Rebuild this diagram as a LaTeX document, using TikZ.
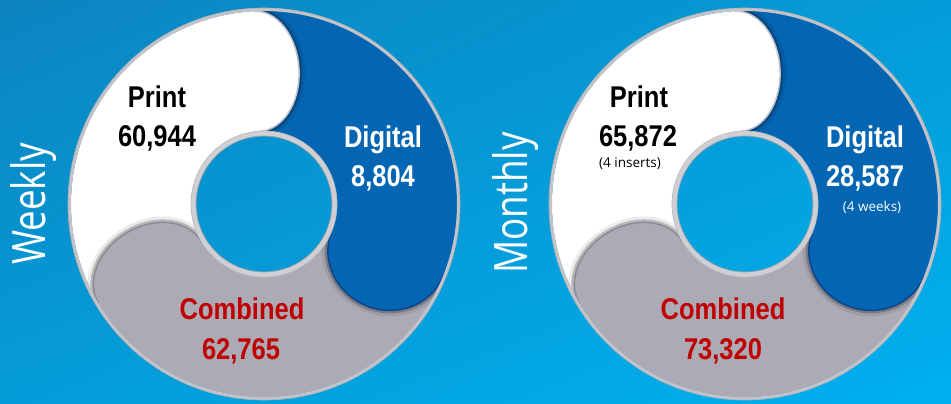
\documentclass[tikz,border=0pt]{standalone}
\usepackage{fontspec}
\usetikzlibrary{shadings}
\newfontfamily\labelfont{Liberation Sans}[FakeStretch=0.85]
\newfontfamily\notefont{Open Sans}
\newfontfamily\sidefont{Open Sans}[FakeStretch=0.8]
\definecolor{bgdark}{RGB}{12,132,192}
\definecolor{bgmid}{RGB}{4,156,216}
\definecolor{bglight}{RGB}{0,176,240}
\definecolor{digitalblue}{RGB}{4,101,178}
\definecolor{blueedge}{RGB}{10,70,140}
\definecolor{combgrey}{RGB}{172,170,181}
\definecolor{greyedge}{RGB}{140,138,150}
\definecolor{rimgrey}{RGB}{196,195,201}
\definecolor{ringgrey}{RGB}{208,207,213}
\definecolor{combred}{RGB}{192,0,0}
\begin{document}
\begin{tikzpicture}[x=1pt,y=1pt,
    bignum/.style={font=\labelfont\bfseries\fontsize{30}{30}\selectfont,anchor=base,inner sep=0pt},
    note/.style={font=\notefont\fontsize{13.5}{14}\selectfont,anchor=base,inner sep=0pt},
    sidelabel/.style={font=\sidefont\fontsize{46}{46}\selectfont,text=white,rotate=90,anchor=base,inner sep=0pt},
    donut/.pic={
        \fill[white] (211:193pt) arc[start angle=211,end angle=93,radius=193pt] -- (93:73pt) arc[start angle=93,end angle=211,radius=73pt] -- cycle;
        \fill[digitalblue] (93:193pt) arc[start angle=93,end angle=-22,radius=193pt] -- (-22:73pt) arc[start angle=-22,end angle=93,radius=73pt] -- cycle;
        \fill[combgrey] (-22:193pt) arc[start angle=-22,end angle=-149,radius=193pt] -- (-149:73pt) arc[start angle=-149,end angle=-22,radius=73pt] -- cycle;
        \begin{scope}
            \clip (0,0) circle[radius=193pt];
            \foreach \ang/\bulge/\col/\edge in {93/42pt/white/rimgrey,-22/56pt/digitalblue/blueedge,-149/46pt/combgrey/greyedge} {
                \begin{scope}[rotate=\ang]
                    \draw[black,opacity=.08,line width=12pt] (193pt,0) arc[start angle=0,end angle=-180,x radius=60pt,y radius=\bulge];
                    \draw[black,opacity=.22,line width=6pt] (193pt,0) arc[start angle=0,end angle=-180,x radius=60pt,y radius=\bulge];
                    \fill[\col] (193pt,4pt) -- (193pt,0) arc[start angle=0,end angle=-180,x radius=60pt,y radius=\bulge] -- (73pt,4pt) -- cycle;
                    \draw[\edge,line width=1.5pt] (193pt,0) arc[start angle=0,end angle=-180,x radius=60pt,y radius=\bulge];
                \end{scope}
            }
        \end{scope}
        \draw[rimgrey,line width=3pt] (0,0) circle[radius=194.5pt];
        \draw[black!30,line width=.6pt] (0,0) circle[radius=196pt];
        \draw[ringgrey,line width=5pt] (0,0) circle[radius=70.5pt];
        \draw[black!35,line width=.7pt] (0,0) circle[radius=68pt];
        \draw[black!25,line width=.7pt] (0,0) circle[radius=73pt];
    }]
    \useasboundingbox (0,0) rectangle (951,404);
    \shade[upper left=bgdark,upper right=bgmid,lower left=bgmid,lower right=bglight] (0,0) rectangle (951,404);
    \pic at (264,200) {donut};
    \pic at (745,200) {donut};
    \node (weekly) [sidelabel] at (45,200) {Weekly};
    \node (monthly) [sidelabel] at (527,201) {Monthly};
    \node (printw) [bignum] at (157,296) {Print};
    \node (printnumw) [bignum] at (157,257) {60,944};
    \node (digitalw) [bignum,text=white] at (383,256) {Digital};
    \node (digitalnumw) [bignum,text=white] at (383,217) {8,804};
    \node (combw) [bignum,text=combred] at (242,84) {Combined};
    \node (combnumw) [bignum,text=combred] at (241,44) {62,765};
    \node (printm) [bignum] at (639,296) {Print};
    \node (printnumm) [bignum] at (638,257) {65,872};
    \node (insertsm) [note] at (630,236) {(4 inserts)};
    \node (digitalm) [bignum,text=white] at (865,256) {Digital};
    \node (digitalnumm) [bignum,text=white] at (865,217) {28,587};
    \node (weeksm) [note,text=white] at (872,192) {(4 weeks)};
    \node (combm) [bignum,text=combred] at (723,84) {Combined};
    \node (combnumm) [bignum,text=combred] at (723,44) {73,320};
\end{tikzpicture}
\end{document}
